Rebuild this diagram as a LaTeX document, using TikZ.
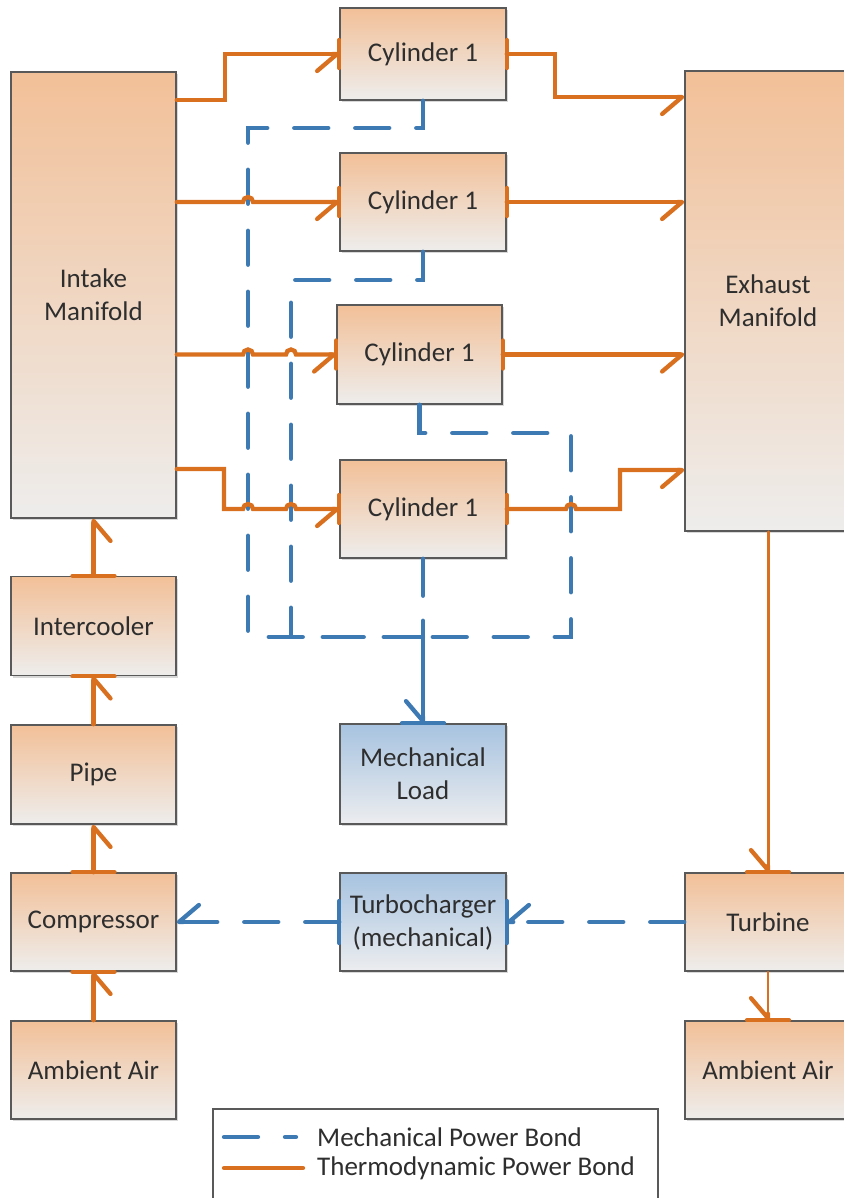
\documentclass[tikz,border=0pt]{standalone}
\usepackage{fontspec}
\setmainfont{Carlito}
\usetikzlibrary{arrows.meta,shadows}
\definecolor{orangeL}{HTML}{D8701F}
\definecolor{blueL}{HTML}{3D7AB4}
\definecolor{otop}{HTML}{F2C098}
\definecolor{obot}{HTML}{EEEDEC}
\definecolor{btop}{HTML}{A7C3E0}
\definecolor{bbot}{HTML}{ECEDEF}
\definecolor{bord}{HTML}{595959}
\definecolor{txt}{HTML}{2E2E2E}
\begin{document}
\begin{tikzpicture}[x=1pt,y=-1pt,
  box/.style={draw=bord, line width=1.5pt, text=txt, align=center, inner sep=0pt,
    font=\fontsize{27}{33}\selectfont,
    drop shadow={fill=black!30, opacity=.5, shadow xshift=2pt, shadow yshift=-2pt}},
  obox/.style={box, top color=otop, bottom color=obot},
  bbox/.style={box, top color=btop, bottom color=bbot},
  tb/.style={draw=orangeL, line width=4.3pt, line cap=round},
  mb/.style={draw=blueL, line width=4.3pt, line cap=round, dash pattern=on 34pt off 27pt},
  hb/.style={-{Straight Barb[harpoon,swap,round,length=20pt,width=34pt,line width=4.3pt]}},
  cstroke/.style={draw=orangeL, line width=4.3pt, line cap=round},
  mstroke/.style={draw=blueL, line width=4.3pt, line cap=round},
  legtext/.style={anchor=west, text=txt, inner sep=0pt, font=\fontsize{27}{33}\selectfont},
]
\useasboundingbox (0,0) rectangle (843,1198);

% ---- boxes ----
\node[obox, minimum width=165pt, minimum height=446pt] (im) at (93.5,295) {Intake\\Manifold};
\node[obox, minimum width=166pt, minimum height=92pt] (cA) at (423,54) {Cylinder 1};
\node[obox, minimum width=166pt, minimum height=98pt] (cB) at (423,202) {Cylinder 1};
\node[obox, minimum width=165pt, minimum height=99pt] (cC) at (419.5,354.5) {Cylinder 1};
\node[obox, minimum width=166pt, minimum height=98pt] (cD) at (423,509) {Cylinder 1};
\node[obox, minimum width=166pt, minimum height=460pt] (em) at (768,301) {Exhaust\\Manifold};
\node[obox, minimum width=165pt, minimum height=99pt] (ic) at (93.5,626) {Intercooler};
\node[obox, minimum width=165pt, minimum height=99pt] (pipe) at (93.5,774.5) {Pipe};
\node[obox, minimum width=165pt, minimum height=98pt] (comp) at (93.5,922) {Compressor};
\node[obox, minimum width=165pt, minimum height=98pt] (airL) at (93.5,1070) {Ambient Air};
\node[bbox, minimum width=166pt, minimum height=100pt] (load) at (423,774) {Mechanical\\Load};
\node[bbox, minimum width=166pt, minimum height=98pt] (tc) at (423,922) {Turbocharger\\(mechanical)};
\node[obox, minimum width=166pt, minimum height=98pt] (turb) at (768,922) {Turbine};
\node[obox, minimum width=166pt, minimum height=98pt] (airR) at (768,1070) {Ambient Air};

% ---- mechanical (dashed) bonds ----
\coordinate (J) at (423,637);
\draw[mb] (cA.south) -- (423,128) -- (248,128) -- (248,637) -- (J);
\draw[mb] (cB.south) -- (423,280) -- (291,280) -- (291,637) -- (J);
\draw[mb] (cC.south) -- (419.5,433) -- (571,433) -- (571,637) -- (J);
\draw[mb, hb, dash pattern=on 37pt off 25pt on 200pt] (cD.south) -- (load.north);
\draw[mb, hb] (turb.west) -- (tc.east);
\draw[mb, hb] (tc.west) -- (comp.east);
\draw[mstroke] ([xshift=-21pt]load.north) -- ([xshift=21pt]load.north);
\draw[mstroke] ([yshift=-21pt]tc.east) -- ([yshift=21pt]tc.east);
\draw[mstroke] ([yshift=-21pt]tc.west) -- ([yshift=21pt]tc.west);

% ---- thermodynamic bonds ----
\draw[tb, hb] (im.east |- 0,100) -- (225,100) -- (225,54) -- (cA.west);
\draw[tb, hb] (cA.east) -- (555,54) -- (555,97) -- (em.west |- 0,97);
\draw[tb, hb] (im.east |- cB.west) -- (243,202) arc[start angle=180, end angle=0, radius=5pt] -- (cB.west);
\draw[tb, hb] (cB.east) -- (em.west |- cB.east);
\draw[tb, hb] (im.east |- cC.west) -- (243,354.5) arc[start angle=180, end angle=0, radius=5pt]
  -- (286,354.5) arc[start angle=180, end angle=0, radius=5pt] -- (cC.west);
\draw[tb, hb] (cC.east) -- (em.west |- cC.east);
\draw[tb, hb] (im.east |- 0,469) -- (224,469) -- (224,509) -- (243,509) arc[start angle=180, end angle=0, radius=5pt]
  -- (286,509) arc[start angle=180, end angle=0, radius=5pt] -- (cD.west);
\draw[tb, hb] (cD.east) -- (566,509) arc[start angle=180, end angle=0, radius=5pt] -- (620,509) -- (620,470) -- (em.west |- 0,470);
\draw[tb, hb] (ic.north) -- (im.south);
\draw[tb, hb] (pipe.north) -- (ic.south);
\draw[tb, hb] (comp.north) -- (pipe.south);
\draw[tb, hb] (airL.north) -- (comp.south);
\draw[tb, hb, line width=3pt] (em.south) -- (turb.north);
\draw[tb, hb, line width=1.8pt] (turb.south) -- (airR.north);

% causal strokes
\foreach \n in {cA,cB,cC,cD}{
  \draw[cstroke] ([yshift=-14pt]\n.west) -- ([yshift=14pt]\n.west);
  \draw[cstroke] ([yshift=-14pt]\n.east) -- ([yshift=14pt]\n.east);
}
\foreach \n in {ic.north,ic.south,comp.north,comp.south,turb.north,airR.north}{
  \draw[cstroke] ([xshift=-21pt]\n) -- ([xshift=21pt]\n);
}

% ---- legend ----
\node[draw=bord, line width=1.5pt, fill=white, minimum width=445pt, minimum height=110pt,
  inner sep=0pt, anchor=north west] (leg) at (212,1108) {};
\draw[mb, dash pattern=on 34pt off 27pt on 11pt off 60pt] (224,1137) -- (296,1137);
\draw[tb] (224,1168) -- (303,1168);
\node[legtext] (lmech) at (317,1137) {Mechanical Power Bond};
\node[legtext] (lthermo) at (317,1168) {Thermodynamic Power Bond};
\end{tikzpicture}
\end{document}
